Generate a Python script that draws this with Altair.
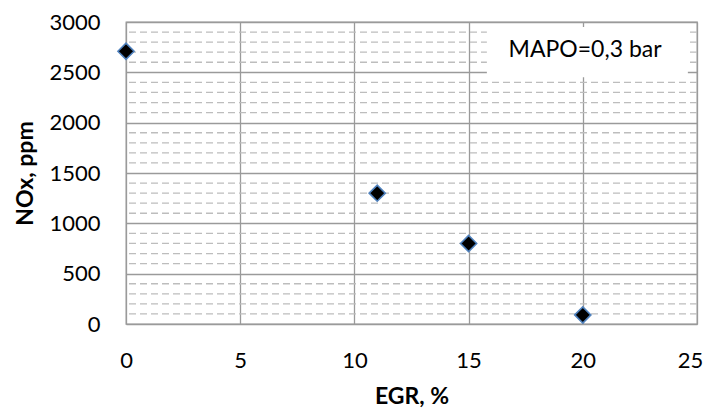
import altair as alt
import pandas as pd

egr = [0, 11, 15, 20]
nox = [2710, 1300, 800, 90]
minor_y = [v for v in range(100, 3000, 100) if v % 500 != 0]
label_text = ["MAPO=0,3 bar"]

FONT = "Lato"
GRID = "#9a9a9a"
MINOR = "#bdbdbd"

pts = pd.DataFrame({"egr": egr, "nox": nox})
minor = pd.DataFrame({"y": minor_y})
box = pd.DataFrame({"x": [15.8], "x2": [24.6], "y": [2450], "y2": [2950],
                    "tx": [20.1], "ty": [2722], "t": label_text})

xs = alt.Scale(domain=[0, 25], nice=False)
ys = alt.Scale(domain=[0, 3000], nice=False)

minor_rules = alt.Chart(minor).mark_rule(
    color=MINOR, strokeWidth=1.3, strokeDash=[7, 4]
).encode(y=alt.Y("y:Q", scale=ys))

base = alt.Chart(pts).mark_point(opacity=0).encode(
    x=alt.X("egr:Q", scale=xs, title="EGR, %",
            axis=alt.Axis(values=[0, 5, 10, 15, 20, 25], format="d", grid=True, gridColor=GRID,
                          gridWidth=1.3, ticks=False, tickSize=0, domain=False, labelFlush=False,
                          labelOffset=alt.ExprRef("datum.value == 25 ? -7 : 0"),
                          labelPadding=26, labelFontSize=22, labelFont=FONT, labelColor="#000",
                          titleFont=FONT, titleFontSize=23, titleFontWeight="bold", titleColor="#000",
                          titleX=285.5, titleY=72, titleBaseline="middle", titleAlign="center")),
    y=alt.Y("nox:Q", scale=ys, title="NOx, ppm",
            axis=alt.Axis(values=[0, 500, 1000, 1500, 2000, 2500, 3000], format="d", grid=True,
                          gridColor=GRID, labelFlush=False,
                          gridWidth=1.3, ticks=False, tickSize=0, domain=False,
                          labelPadding=26, labelFontSize=22, labelFont=FONT, labelColor="#000",
                          titleFont=FONT, titleFontSize=23, titleFontWeight="bold", titleColor="#000",
                          titleAngle=270, titleX=-101, titleY=151, titleBaseline="middle",
                          titleAlign="center")),
)

rect = alt.Chart(box).mark_rect(color="white").encode(
    x=alt.X("x:Q", scale=xs), x2="x2:Q", y=alt.Y("y:Q", scale=ys), y2="y2:Q")
txt = alt.Chart(box).mark_text(font=FONT, fontSize=23, color="#000", align="center",
                               baseline="middle").encode(
    x=alt.X("tx:Q", scale=xs), y=alt.Y("ty:Q", scale=ys), text="t:N")

points = alt.Chart(pts).mark_point(shape="diamond", filled=True, fill="black", stroke="#4F81BD",
                                   strokeWidth=1.6, size=260, opacity=1).encode(
    x=alt.X("egr:Q", scale=xs), y=alt.Y("nox:Q", scale=ys))

chart = alt.layer(minor_rules, base, rect, txt, points).properties(
    width=571, height=302,
    autosize=alt.AutoSizeParams(type="none"),
    padding={"left": 118, "top": 14, "right": 6, "bottom": 86},
).configure_view(stroke=GRID, strokeWidth=1.3)

chart.save("out.html", embed_options={"renderer": "svg", "actions": False})
